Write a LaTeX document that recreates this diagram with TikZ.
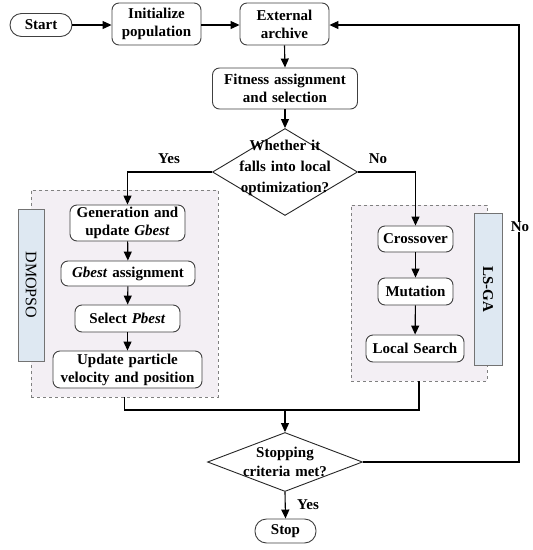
\documentclass[tikz,border=0pt]{standalone}
\usepackage{fontspec}
\setmainfont{Liberation Serif}[WordSpace={1.3,1,1}]
\usetikzlibrary{arrows.meta,shapes.geometric}
\definecolor{framefill}{HTML}{F3EFF4}
\definecolor{labfill}{HTML}{DEE8F2}
\begin{document}
\begin{tikzpicture}[x=1pt,y=-1pt,
  txt/.style={font=\fontsize{15}{18}\selectfont\bfseries, align=center},
  box/.style={txt, draw=black!75, line width=0.9pt, rounded corners=7pt, fill=white, inner sep=1pt},
  pill/.style={box, rounded corners=11.5pt},
  dia/.style={diamond, draw=black!85, line width=0.9pt, fill=white, inner sep=0pt},
  frame/.style={draw=black!50, dashed, line width=0.6pt, fill=framefill},
  labbox/.style={draw=black!55, line width=0.7pt, fill=labfill, inner sep=0pt},
  conn/.style={line width=1.1pt, black},
  arr/.style={conn, -{Triangle[length=9pt,width=8pt]}},
  lab/.style={txt, inner sep=1pt}
]
\useasboundingbox (0,0) rectangle (533,550);

% frames
\node[frame, minimum width=187pt, minimum height=207pt] (dmf) at (124.5,293.5) {};
\node[frame, minimum width=136pt, minimum height=176pt] (lsf) at (419,293) {};
\node[labbox, minimum width=26pt, minimum height=152pt] (dml) at (31,285) {};
\node[rotate=-90, font=\fontsize{16}{18}\selectfont] (dmt) at (dml) {DMOPSO};
\node[labbox, minimum width=28pt, minimum height=152pt] (lsl) at (488,289) {};
\node[rotate=-90, txt] (lst) at (lsl) {LS-GA};

% top row
\node[pill, minimum width=62pt, minimum height=23pt] (start) at (41,25) {Start};
\node[box, minimum width=89pt, minimum height=42pt] (init) at (156.5,24) {Initialize\\population};
\node[box, minimum width=89pt, minimum height=42pt] (ext) at (284.5,24) {External\\archive};
\node[box, minimum width=145pt, minimum height=41pt] (fit) at (285,88.5) {Fitness assignment\\and selection};

% decision 1
\node[dia, minimum width=145pt, minimum height=87pt] (d1) at (285,172) {};
\node[txt, font=\fontsize{15}{21}\selectfont\bfseries] (d1t) at (285,168) {Whether it\\falls into local\\optimization?};

% left column
\node[box, minimum width=115pt, minimum height=36pt] (gen) at (127.5,223) {Generation and\\update \textit{Gbest}};
\node[box, minimum width=134pt, minimum height=25pt] (gass) at (128,273.5) {\textit{Gbest} assignment};
\node[box, minimum width=105pt, minimum height=27pt] (pb) at (127.5,318.5) {Select \textit{Pbest}};
\node[box, minimum width=149pt, minimum height=37pt] (upd) at (127.5,369.5) {Update particle\\velocity and position};

% right column
\node[box, minimum width=75pt, minimum height=26pt] (cross) at (415.5,239) {Crossover};
\node[box, minimum width=75pt, minimum height=27pt] (mut) at (415.5,291.5) {Mutation};
\node[box, minimum width=98pt, minimum height=27pt] (ls) at (415,348.5) {Local Search};

% decision 2 and stop
\node[dia, minimum width=155pt, minimum height=59pt] (d2) at (285,462) {};
\node[txt, font=\fontsize{15}{19}\selectfont\bfseries] (d2t) at (285,462) {Stopping\\criteria met?};
\node[pill, minimum width=61pt, minimum height=24pt] (stop) at (285.5,531) {Stop};

% connectors
\draw[arr] (start.east |- 0,25) -- (init.west |- 0,25);
\draw[arr] (init.east |- 0,25) -- (ext.west |- 0,25);
\draw[arr] (ext.south) -- (fit.north);
\draw[arr] (fit.south) -- (d1.north);
\draw[arr] (d1.west) -| (gen.north);
\draw[arr] (d1.east) -| (cross.north);
\draw[arr] (gen) -- (gass);
\draw[arr] (gass) -- (pb);
\draw[arr] (pb) -- (upd);
\draw[arr] (cross) -- (mut);
\draw[arr] (mut) -- (ls);

\coordinate (m) at (285,410);
\draw[conn] (dmf.south) |- (lsf.south |- m) -- (lsf.south);
\draw[arr] (m) -- (d2.north);
\draw[arr] (d2.south) -- (stop.north);

\coordinate (fb) at (519,462);
\draw[arr] (d2.east) -- (fb) |- (ext.east |- 0,25);

% labels
\node[lab] (yes1) at (169,159) {Yes};
\node[lab] (no1) at (378,159) {No};
\node[lab, fill=white, inner sep=0.5pt] (no2) at (520,227) {No};
\node[lab] (yes2) at (308,505) {Yes};
\end{tikzpicture}
\end{document}
